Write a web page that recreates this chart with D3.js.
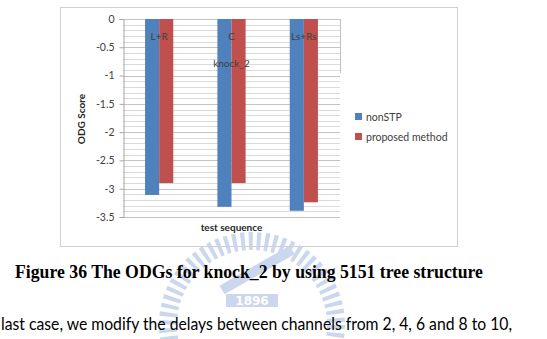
<!DOCTYPE html>
<html>
<head>
<meta charset="utf-8">
<script src="https://cdn.jsdelivr.net/npm/d3@7"></script>
<style>
  body { margin: 0; background: #fff; }
  svg { display: block; }
</style>
</head>
<body>
<script>
// data
var categories = ["L+R", "C", "Ls+Rs"];
var seriesNames = ["nonSTP", "proposed method"];
var nonSTP = [-3.11, -3.32, -3.39];
var proposed = [-2.90, -2.90, -3.24];
var yTicks = [0, -0.5, -1, -1.5, -2, -2.5, -3, -3.5];
var colors = ["#4f81bd", "#c0504d"];

var width = 547, height = 339;
var svg = d3.select("body").append("svg")
  .attr("width", width)
  .attr("height", height);

// faint watermark logo behind everything
var wm = svg.append("g").attr("opacity", 0.6);
wm.append("circle")
  .attr("cx", 252).attr("cy", 325).attr("r", 84)
  .attr("fill", "none")
  .attr("stroke", "#a9bde3")
  .attr("stroke-width", 18)
  .attr("stroke-dasharray", "4 4");
wm.append("line")
  .attr("x1", 222).attr("y1", 290).attr("x2", 292).attr("y2", 250)
  .attr("stroke", "#a9bde3").attr("stroke-width", 10);
wm.append("rect")
  .attr("x", 226).attr("y", 294).attr("width", 52).attr("height", 13)
  .attr("fill", "#a9bde3");
wm.append("text")
  .attr("x", 252).attr("y", 305)
  .attr("text-anchor", "middle")
  .attr("font-family", "DejaVu Sans")
  .attr("font-weight", "bold")
  .attr("font-size", 12)
  .attr("fill", "#fff")
  .text("1896");

// chart frame
svg.append("rect")
  .attr("x", 60.5).attr("y", 7.5)
  .attr("width", 397).attr("height", 239)
  .attr("fill", "none")
  .attr("stroke", "#d0d0d0");

var plot = {left: 123, right: 340, top: 19, bottom: 217};

var y = d3.scaleLinear().domain([0, -3.5]).range([plot.top, plot.bottom]);
var x = d3.scaleBand().domain(categories)
  .range([plot.left, plot.right])
  .paddingInner(0.61).paddingOuter(0.305);
var xSub = d3.scaleBand().domain(seriesNames).range([0, x.bandwidth()]);

// minor gridlines every 0.1
var minor = d3.range(0, 36).map(function(i) { return -i / 10; });
svg.append("g").selectAll("line").data(minor).join("line")
  .attr("x1", plot.left).attr("x2", plot.right)
  .attr("y1", function(d) { return Math.round(y(d)) + 0.5; })
  .attr("y2", function(d) { return Math.round(y(d)) + 0.5; })
  .attr("stroke", function(d, i) { return i % 5 == 0 ? "#c4c4c4" : "#dadada"; })
  .attr("stroke-width", 1);

// short plot-area edge on the right
svg.append("line")
  .attr("x1", plot.right + 0.5).attr("x2", plot.right + 0.5)
  .attr("y1", plot.top).attr("y2", 73)
  .attr("stroke", "#bfbfbf");

// y axis
var yAxis = d3.axisLeft(y).tickValues(yTicks).tickSize(4).tickPadding(5)
  .tickFormat(function(d) { return d3.format("")(d).replace("−", "-"); });
var ya = svg.append("g")
  .attr("transform", "translate(" + (plot.left + 0.5) + ",0)")
  .call(yAxis);
ya.select(".domain").attr("stroke", "#a6a6a6");
ya.selectAll(".tick line").attr("stroke", "#a6a6a6");
ya.selectAll("text")
  .attr("font-family", "Lato, 'Open Sans', sans-serif")
  .attr("font-size", 10.5)
  .attr("fill", "#404040");

// bars
var rows = categories.map(function(c, i) {
  return {cat: c, vals: [nonSTP[i], proposed[i]]};
});
var groups = svg.append("g").selectAll("g").data(rows).join("g")
  .attr("transform", function(d) { return "translate(" + x(d.cat) + ",0)"; });
groups.selectAll("rect")
  .data(function(d) { return d.vals.map(function(v, j) { return {name: seriesNames[j], v: v, j: j}; }); })
  .join("rect")
  .attr("x", function(d) { return xSub(d.name); })
  .attr("width", xSub.bandwidth())
  .attr("y", y(0))
  .attr("height", function(d) { return y(d.v) - y(0); })
  .attr("fill", function(d) { return colors[d.j]; });

// category labels inside the plot
svg.append("g").selectAll("text").data(categories).join("text")
  .attr("x", function(d) { return x(d) + x.bandwidth() / 2; })
  .attr("y", 40)
  .attr("text-anchor", "middle")
  .attr("font-family", "Lato, 'Open Sans', sans-serif")
  .attr("font-size", 10)
  .attr("fill", "#404040")
  .text(function(d) { return d; });

svg.append("text")
  .attr("x", x("C") + x.bandwidth() / 2)
  .attr("y", 67)
  .attr("text-anchor", "middle")
  .attr("font-family", "Lato, 'Open Sans', sans-serif")
  .attr("font-size", 10)
  .attr("fill", "#404040")
  .text("knock_2");

// axis titles
svg.append("text")
  .attr("x", (plot.left + plot.right) / 2)
  .attr("y", 231)
  .attr("text-anchor", "middle")
  .attr("font-family", "Lato, 'Open Sans', sans-serif")
  .attr("font-weight", "bold")
  .attr("font-size", 10)
  .attr("fill", "#262626")
  .text("test sequence");

svg.append("text")
  .attr("transform", "translate(85,119) rotate(-90)")
  .attr("text-anchor", "middle")
  .attr("font-family", "Lato, 'Open Sans', sans-serif")
  .attr("font-weight", "bold")
  .attr("font-size", 10)
  .attr("fill", "#262626")
  .text("ODG Score");

// legend
var legend = svg.append("g").selectAll("g").data(seriesNames).join("g")
  .attr("transform", function(d, i) { return "translate(355," + (113 + i * 20) + ")"; });
legend.append("rect")
  .attr("width", 7).attr("height", 7)
  .attr("fill", function(d, i) { return colors[i]; });
legend.append("text")
  .attr("x", 11).attr("y", 7.5)
  .attr("font-family", "Lato, 'Open Sans', sans-serif")
  .attr("font-size", 10.5)
  .attr("fill", "#404040")
  .text(function(d) { return d; });

// caption and body text of the page
svg.append("text")
  .attr("x", 15).attr("y", 278)
  .attr("font-family", "'Liberation Serif', serif")
  .attr("font-weight", "bold")
  .attr("font-size", 18)
  .attr("textLength", 468)
  .attr("lengthAdjust", "spacingAndGlyphs")
  .attr("fill", "#000")
  .text("Figure 36 The ODGs for knock_2 by using 5151 tree structure");

svg.append("text")
  .attr("x", 1).attr("y", 330)
  .attr("font-family", "Lato, 'Open Sans', sans-serif")
  .attr("font-size", 17)
  .attr("textLength", 511)
  .attr("lengthAdjust", "spacingAndGlyphs")
  .attr("fill", "#000")
  .text("last case, we modify the delays between channels from 2, 4, 6 and 8 to 10,");
</script>
</body>
</html>
